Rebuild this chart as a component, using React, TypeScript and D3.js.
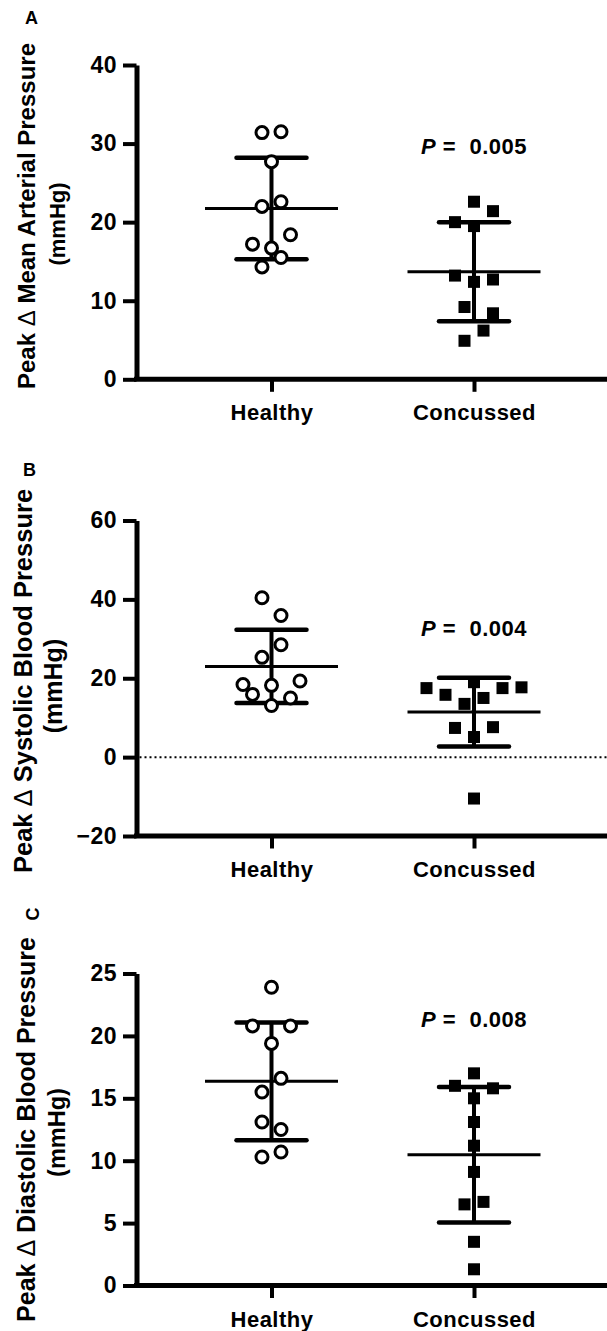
import React, { useEffect, useRef } from "react";
import * as d3 from "d3";

const width = 607;
const height = 1331;
const font = "'Liberation Sans', Arial, Helvetica, sans-serif";

const categories = ["Healthy", "Concussed"];

// A: peak change in mean arterial pressure (mmHg)
const healthyMap = [31.4, 31.5, 27.7, 22.0, 22.6, 18.4, 17.2, 16.7, 15.5, 14.3];
const healthyMapLane = [-1, 1, 0, -1, 1, 2, -2, 0, 1, -1];
const concussedMap = [22.6, 21.4, 20.0, 19.5, 13.2, 12.7, 12.4, 9.2, 8.4, 6.2, 4.9];
const concussedMapLane = [0, 2, -2, 0, -2, 2, 0, -1, 2, 1, -1];

// B: peak change in systolic blood pressure (mmHg)
const healthySbp = [40.4, 35.9, 28.5, 25.3, 18.4, 18.2, 19.3, 15.9, 15.0, 13.1];
const healthySbpLane = [-1, 1, 1, -1, -3, 0, 3, -2, 2, 0];
const concussedSbp = [19.0, 17.5, 17.5, 17.7, 15.8, 15.0, 13.5, 7.4, 7.6, 5.1, -10.5];
const concussedSbpLane = [0, -5, 3, 5, -3, 1, -1, -2, 2, 0, 0];

// C: peak change in diastolic blood pressure (mmHg)
const healthyDbp = [23.9, 20.8, 20.8, 19.4, 16.6, 15.5, 13.1, 12.5, 10.7, 10.3];
const healthyDbpLane = [0, -2, 2, 0, 1, -1, -1, 1, 1, -1];
const concussedDbp = [17.0, 16.0, 15.8, 15.0, 13.1, 11.2, 9.1, 6.5, 6.7, 3.5, 1.3];
const concussedDbpLane = [0, -2, 2, 0, 0, 0, 0, -1, 1, 0, 0];

const panelLetters = ["A", "B", "C"];
const panelTitles = [
  "Mean Arterial Pressure",
  "Systolic Blood Pressure",
  "Diastolic Blood Pressure",
];
const yDomains = [[0, 40], [-20, 60], [0, 25]];
const yTicks = [[0, 10, 20, 30, 40], [-20, 0, 20, 40, 60], [0, 5, 10, 15, 20, 25]];
const pValues = ["0.005", "0.004", "0.008"];
const pLabelAt = [28.7, 30.8, 20.7];

const panels = [
  {
    healthy: healthyMap, healthyLane: healthyMapLane,
    concussed: concussedMap, concussedLane: concussedMapLane,
    top: 65, bottom: 379.3, zero: false,
    t1: { x: 34.5, y: 216, size: 24 }, t2: { x: 65, y: 224, size: 22 },
    letter: { x: 31.5, y: 24, rotate: false },
  },
  {
    healthy: healthySbp, healthyLane: healthySbpLane,
    concussed: concussedSbp, concussedLane: concussedSbpLane,
    top: 520.5, bottom: 836, zero: true,
    t1: { x: 32, y: 681, size: 25.5 }, t2: { x: 62, y: 686, size: 25 },
    letter: { x: 29.5, y: 476, rotate: false },
  },
  {
    healthy: healthyDbp, healthyLane: healthyDbpLane,
    concussed: concussedDbp, concussedLane: concussedDbpLane,
    top: 973.5, bottom: 1285.5, zero: false,
    t1: { x: 35, y: 1129.5, size: 25 }, t2: { x: 65, y: 1132.5, size: 23.5 },
    letter: { x: 39, y: 914, rotate: true },
  },
];

const axisX = 136.5;
const laneWidth = 9.5;

export default function App() {
  const ref = useRef<SVGSVGElement>(null);

  useEffect(() => {
    const svg = d3.select(ref.current);
    svg.selectAll("*").remove();

    const x = d3.scalePoint<string>().domain(categories).range([271.5, 474]);

    panels.forEach((p, i) => {
      const y = d3.scaleLinear().domain(yDomains[i]).range([p.bottom, p.top]);
      const g = svg.append("g");

      // y axis
      const ya = g
        .append("g")
        .attr("transform", `translate(${axisX},0)`)
        .call(d3.axisLeft(y).tickValues(yTicks[i]).tickSize(13.5).tickSizeOuter(0).tickPadding(6));
      ya.select(".domain").attr("stroke", "#000").attr("stroke-width", 5);
      ya.selectAll(".tick line").attr("stroke", "#000").attr("stroke-width", 4);
      ya.selectAll(".tick text")
        .attr("fill", "#000")
        .style("font-family", font)
        .style("font-weight", "bold")
        .style("font-size", "23px")
        .style("letter-spacing", "0.5px");

      // x axis
      g.append("line")
        .attr("x1", axisX - 2.5)
        .attr("x2", width)
        .attr("y1", p.bottom)
        .attr("y2", p.bottom)
        .attr("stroke", "#000")
        .attr("stroke-width", 5);
      const xa = g
        .append("g")
        .attr("transform", `translate(0,${p.bottom})`)
        .call(d3.axisBottom(x).tickSize(12.5).tickPadding(13));
      xa.select(".domain").remove();
      xa.selectAll(".tick line").attr("stroke", "#000").attr("stroke-width", 4);
      xa.selectAll(".tick text")
        .attr("fill", "#000")
        .style("font-family", font)
        .style("font-weight", "bold")
        .style("font-size", "22px")
        .style("letter-spacing", "0.5px");

      // dotted zero line
      if (p.zero) {
        g.append("line")
          .attr("x1", axisX + 3)
          .attr("x2", width)
          .attr("y1", y(0))
          .attr("y2", y(0))
          .attr("stroke", "#000")
          .attr("stroke-width", 2)
          .attr("stroke-dasharray", "2,3");
      }

      // y label
      const t1 = g
        .append("text")
        .attr("transform", `translate(${p.t1.x},${p.t1.y}) rotate(-90)`)
        .attr("text-anchor", "middle")
        .style("font-family", font)
        .style("font-weight", "bold")
        .style("font-size", `${p.t1.size}px`);
      t1.append("tspan").text("Peak ");
      t1.append("tspan").style("font-weight", "normal").text("Δ");
      t1.append("tspan").text(" " + panelTitles[i]);
      g.append("text")
        .attr("transform", `translate(${p.t2.x},${p.t2.y}) rotate(-90)`)
        .attr("text-anchor", "middle")
        .style("font-family", font)
        .style("font-weight", "bold")
        .style("font-size", `${p.t2.size}px`)
        .text("(mmHg)");

      // panel letter
      g.append("text")
        .attr(
          "transform",
          `translate(${p.letter.x},${p.letter.y})` + (p.letter.rotate ? " rotate(-90)" : "")
        )
        .attr("text-anchor", "middle")
        .style("font-family", font)
        .style("font-weight", "bold")
        .style("font-size", "18px")
        .text(panelLetters[i]);

      // mean ± SD
      const groups = [p.healthy, p.concussed];
      groups.forEach((vals, k) => {
        const cx = x(categories[k]) as number;
        const m = d3.mean(vals) as number;
        const sd = d3.deviation(vals) as number;
        g.append("line")
          .attr("x1", cx)
          .attr("x2", cx)
          .attr("y1", y(m + sd))
          .attr("y2", y(m - sd))
          .attr("stroke", "#000")
          .attr("stroke-width", 4);
        g.selectAll(null)
          .data([m + sd, m - sd])
          .enter()
          .append("line")
          .attr("x1", cx - 35)
          .attr("x2", cx + 35)
          .attr("y1", (d) => y(d))
          .attr("y2", (d) => y(d))
          .attr("stroke", "#000")
          .attr("stroke-width", 4.5)
          .attr("stroke-linecap", "round");
        g.append("line")
          .attr("x1", cx - 66.5)
          .attr("x2", cx + 66.5)
          .attr("y1", y(m))
          .attr("y2", y(m))
          .attr("stroke", "#000")
          .attr("stroke-width", 3);
      });

      // healthy: open circles
      const hx = x(categories[0]) as number;
      g.selectAll(null)
        .data(p.healthy)
        .enter()
        .append("circle")
        .attr("cx", (_, j) => hx + p.healthyLane[j] * laneWidth)
        .attr("cy", (d) => y(d))
        .attr("r", 6)
        .attr("fill", "#fff")
        .attr("stroke", "#000")
        .attr("stroke-width", 3);

      // concussed: filled squares
      const cxc = x(categories[1]) as number;
      g.selectAll(null)
        .data(p.concussed)
        .enter()
        .append("rect")
        .attr("x", (_, j) => cxc + p.concussedLane[j] * laneWidth - 6)
        .attr("y", (d) => y(d) - 6)
        .attr("width", 12)
        .attr("height", 12)
        .attr("fill", "#000");

      // P value
      const pt = g
        .append("text")
        .attr("x", cxc)
        .attr("y", y(pLabelAt[i]))
        .attr("text-anchor", "middle")
        .style("font-family", font)
        .style("font-weight", "bold")
        .style("font-size", "22px")
        .style("letter-spacing", "0.5px")
        .attr("xml:space", "preserve");
      pt.append("tspan").style("font-style", "italic").text("P");
      pt.append("tspan").text(" =  " + pValues[i]);
    });
  }, []);

  return (
    <svg
      ref={ref}
      width={width}
      height={height}
      style={{ position: "absolute", left: 0, top: 0, background: "#fff" }}
    />
  );
}
